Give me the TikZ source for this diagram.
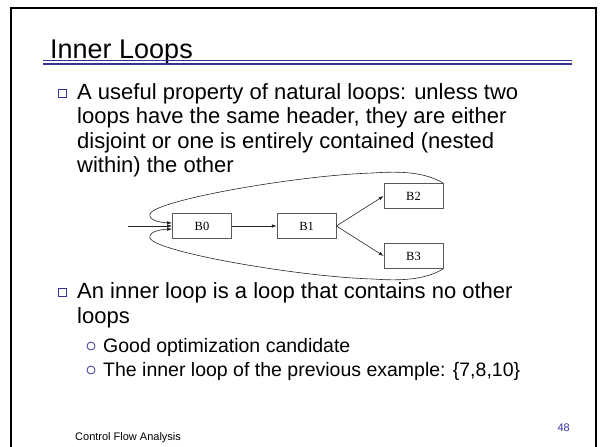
\documentclass[tikz,border=0pt]{standalone}
\usepackage{fontspec}
\setmainfont{Liberation Sans}
\newfontfamily\boxfont{Liberation Serif}
\usetikzlibrary{arrows.meta,positioning}
\definecolor{slideblue}{RGB}{51,51,153}

\begin{document}
\begin{tikzpicture}[
  x=1pt, y=-1pt,
  >={Latex[length=5pt,width=3.5pt]},
  title/.style={anchor=base west, inner sep=0pt, font=\fontsize{27}{32}\selectfont},
  txt/.style={anchor=base west, inner sep=0pt, font=\fontsize{22}{25}\selectfont},
  subtxt/.style={anchor=base west, inner sep=0pt, font=\fontsize{19.5}{23}\selectfont},
  foot/.style={inner sep=0pt, font=\fontsize{11}{13}\selectfont},
  bullet/.style={draw=slideblue, line width=0.8pt, minimum size=8pt, inner sep=0pt},
  subbullet/.style={draw=slideblue, circle, line width=0.8pt, minimum size=8pt,
                    inner sep=0pt},
  block/.style={draw=black!65, line width=0.6pt, minimum width=59pt,
                minimum height=25pt, inner sep=0pt,
                font=\boxfont\fontsize{12.5}{14}\selectfont},
  edge/.style={line width=0.6pt, black!85}
]
\useasboundingbox (0,0) rectangle (600,447);

% slide frame and title
\draw[line width=2pt] (11,447) |- (596,8) -- (596,447);
\node[title] (title) at (50,58) {Inner Loops};
\draw[slideblue, line width=1pt] (43,60.7) -- (572,60.7);
\draw[slideblue, line width=2.8pt] (43,64) -- (572,64);

% first bullet
\node[bullet] (sq1) at (62.5,93) {};
\node[txt] (l1) at (77,99) {A useful property of natural loops: unless two};
\node[txt] (l2) at (77,123.5) {loops have the same header, they are either};
\node[txt] (l3) at (77,148) {disjoint or one is entirely contained (nested};
\node[txt] (l4) at (77,172.5) {within) the other};

% flow graph
\node[block] (b0) at (202,226) {B0};
\node[block, right=45pt of b0] (b1) {B1};
\node[block] (b2) at (413.5,196) {B2};
\node[block] (b3) at (413.5,256) {B3};
\coordinate (entry) at (128,226);

\draw[edge,->] (entry) -- (b0);
\draw[edge,->] (b0) -- (b1);
\draw[edge,->] (b1.east) -- (b2.west);
\draw[edge,->] (b1.east) -- (b3.west);

% back edges to the header
\draw[edge,->] (b2.north east) .. controls (425,172) and (400,171) .. (373,173)
  .. controls (300,175) and (155,200) .. (150,214)
  .. controls (148,220) and (160,222.5) .. ([yshift=3pt]b0.west);
\draw[edge,->] (b3.south east) .. controls (425,280) and (400,281) .. (373,279)
  .. controls (300,277) and (155,252) .. (150,238)
  .. controls (148,232) and (160,229.5) .. ([yshift=-3pt]b0.west);

% second bullet
\node[bullet] (sq2) at (62.5,292) {};
\node[txt] (l5) at (77,298) {An inner loop is a loop that contains no other};
\node[txt] (l6) at (77,323) {loops};
\node[subbullet] (c1) at (91,346) {};
\node[subtxt] (l7) at (103,352) {Good optimization candidate};
\node[subbullet] (c2) at (91,370) {};
\node[subtxt] (l8) at (103,376) {The inner loop of the previous example: \{7,8,10\}};

% footer
\node[foot, anchor=base west] (footer) at (75,440) {Control Flow Analysis};
\node[foot, anchor=base east, text=slideblue] (page) at (570,431) {48};
\end{tikzpicture}
\end{document}
